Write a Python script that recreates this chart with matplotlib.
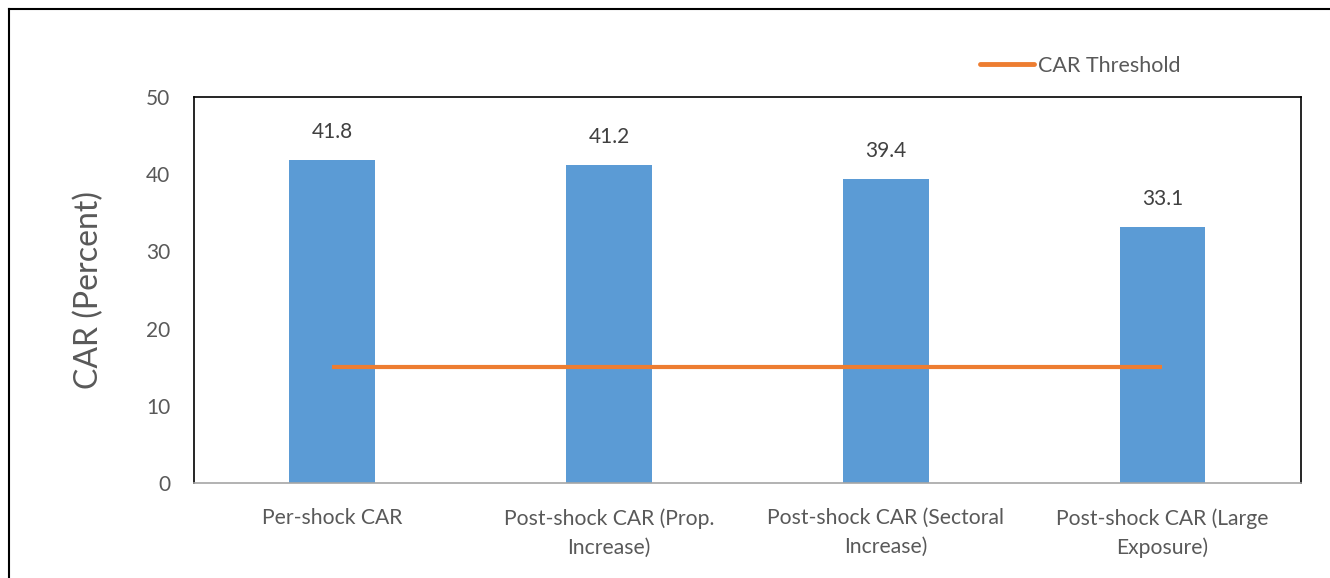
import matplotlib
matplotlib.use("Agg")
import matplotlib.pyplot as plt
from matplotlib.lines import Line2D
import numpy as np

categories = [
    "Per-shock CAR",
    "Post-shock CAR (Prop.\nIncrease)",
    "Post-shock CAR (Sectoral\nIncrease)",
    "Post-shock CAR (Large\nExposure)",
]
car_values = [41.8, 41.2, 39.4, 33.1]
car_threshold = [15, 15, 15, 15]
y_ticks = [0, 10, 20, 30, 40, 50]

BAR_COLOR = "#5B9BD5"
LINE_COLOR = "#ED7D31"
TEXT_COLOR = "#595959"

plt.rcParams["font.family"] = ["Lato", "DejaVu Sans"]

fig = plt.figure(figsize=(13.30, 5.78), dpi=100)
ax = fig.add_axes([0.1459, 0.1644, 0.9780 - 0.1459, 0.8322 - 0.1644])

x = np.arange(len(categories))
ax.bar(x, car_values, width=0.31, color=BAR_COLOR, zorder=2)
for xi, v in zip(x, car_values):
    ax.annotate(f"{v:.1f}", (xi, v), xytext=(0, 13), textcoords="offset points",
                ha="center", va="bottom", fontsize=15, color="#404040")

line, = ax.plot(x, car_threshold, color=LINE_COLOR, lw=3.0, zorder=3,
                solid_capstyle="butt", label="CAR Threshold")

ax.set_xlim(-0.5, len(categories) - 0.5)
ax.set_ylim(0, 50)
ax.set_yticks(y_ticks)
ax.set_xticks(x)
ax.set_xticklabels(categories, fontsize=15.2, color=TEXT_COLOR, linespacing=1.55)
ax.tick_params(axis="y", length=0, pad=17, labelsize=15, labelcolor=TEXT_COLOR)
ax.tick_params(axis="x", length=0, pad=18)
ax.set_ylabel("CAR (Percent)", fontsize=23, color=TEXT_COLOR, labelpad=30)

for side in ("top", "left", "right"):
    ax.spines[side].set_color("black")
    ax.spines[side].set_linewidth(1.2)
ax.spines["bottom"].set_color("#A6A6A6")
ax.spines["bottom"].set_linewidth(1.2)

leg_handle = Line2D([], [], color=LINE_COLOR, lw=3.5, solid_capstyle="round")
fig.legend([leg_handle], ["CAR Threshold"], loc="center left",
           bbox_to_anchor=(980 / 1330, 1 - 66 / 578), frameon=False,
           fontsize=15.5, labelcolor=TEXT_COLOR, handlelength=2.5,
           handletextpad=0.2, borderpad=0, borderaxespad=0)

# Outer frame (left and top edges)
fig.add_artist(Line2D([9 / 1330, 9 / 1330], [0, 1 - 9 / 578], color="black",
                      lw=1.5, transform=fig.transFigure))
fig.add_artist(Line2D([9 / 1330, 1], [1 - 9 / 578, 1 - 9 / 578], color="black",
                      lw=1.5, transform=fig.transFigure))

fig.savefig("out.png", dpi=100)
